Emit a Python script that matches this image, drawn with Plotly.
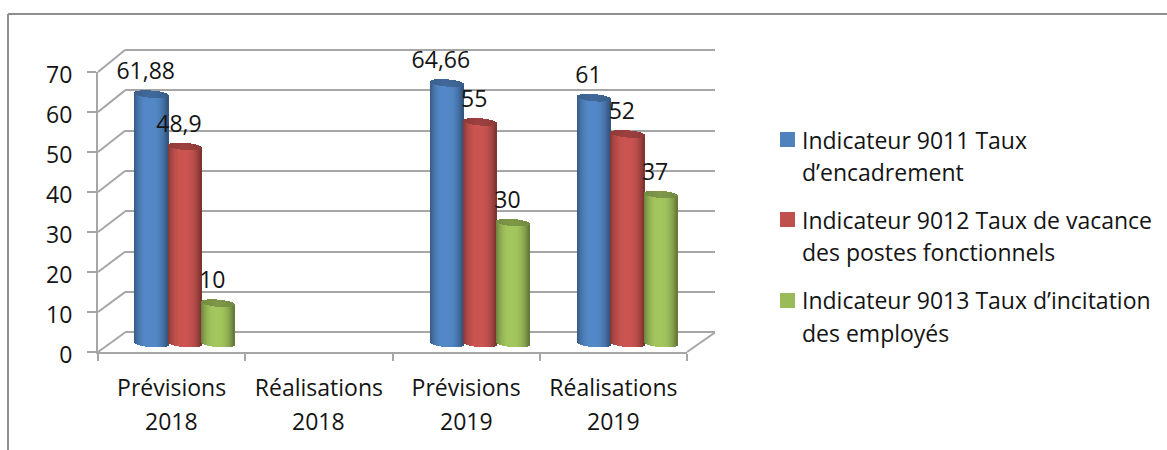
import math
import plotly.graph_objects as go

W, H = 1167, 450

# ---- data ----
categories = ["Prévisions 2018", "Réalisations 2018", "Prévisions 2019", "Réalisations 2019"]
series_names = [
    "Indicateur 9011 Taux d’encadrement",
    "Indicateur 9012 Taux de vacance des postes fonctionnels",
    "Indicateur 9013 Taux d’incitation des employés",
]
values_9011 = [61.88, None, 64.66, 61]
values_9012 = [48.9, None, 55, 52]
values_9013 = [10, None, 30, 37]
y_ticks = [0, 10, 20, 30, 40, 50, 60, 70]
legend_lines = [
    ["Indicateur 9011 Taux", "d’encadrement"],
    ["Indicateur 9012 Taux de vacance", "des postes fonctionnels"],
    ["Indicateur 9013 Taux d’incitation", "des employés"],
]

# ---- style ----
FONT = "Open Sans"
FS = 23
TXT = "#141414"
GRID = "#a6a6a6"
FRAME = "#8e8e8e"
COLORS = ["#4f81bd", "#c0504d", "#9bbb59"]


def fx(p):
    return p / W


def fy(p):
    return 1 - p / H


def shade(hex_c, f):
    r, g, b = int(hex_c[1:3], 16), int(hex_c[3:5], 16), int(hex_c[5:7], 16)
    return "rgb(%d,%d,%d)" % (min(255, r * f), min(255, g * f), min(255, b * f))


# pixel geometry of the pseudo-3D box
FL, FR, FB, FT = 98, 687, 352, 72      # front plane
BL, BR, BB, BT = 125, 715, 332.5, 50   # back wall
BAR_L, BAR_R = 111.2, 701.6            # plane in which the cylinders stand
ZERO_PX, PX_PER_UNIT = 343.5, 4.03
BAR_DOM_B, BAR_DOM_T = 360, 30
CAT_PX = (BAR_R - BAR_L) / 4
BAR_PX = 33.3
N = 33
CAP_B = 3.6 / PX_PER_UNIT
TILT = 1.4 / PX_PER_UNIT
BACK_STEP = (BB - BT) / 70

fig = go.Figure()

# back wall: gridlines only
fig.add_trace(go.Scatter(x=[0, 1], y=[0, 70], mode="none", xaxis="x", yaxis="y",
                         showlegend=False, hoverinfo="skip"))
# front plane: the visible value and category axes
fig.add_trace(go.Scatter(x=categories, y=[0, 0, 0, 0], mode="none", xaxis="x2", yaxis="y2",
                         showlegend=False, hoverinfo="skip"))

# cylinders
w_strip = BAR_PX / N / CAT_PX
w_bar = BAR_PX / CAT_PX
for s, (name, vals, col) in enumerate(zip(series_names, [values_9011, values_9012, values_9013], COLORS)):
    bx, by, bbase, boff, bcol = [], [], [], [], []
    cy, cbase, ccol = [], [], []
    for i, v in enumerate(vals):
        if v is None:
            continue
        for k in range(N):
            u = (k + 0.5) / N * 2 - 1
            arc = math.sqrt(max(0, 1 - u * u))
            tilt = -TILT * u
            lit = 0.66 + 0.40 * (1 - abs(u) ** 2.6) + 0.03 * (-u)
            bot = tilt - CAP_B * arc
            top = v + tilt
            bx.append(i)
            by.append(top - bot)
            bbase.append(bot)
            boff.append((s - 1.5) * w_bar + k * w_strip)
            bcol.append(shade(col, lit))
            cy.append(2 * CAP_B * arc)
            cbase.append(top - CAP_B * arc)
            ccol.append(shade(col, 0.74 + 0.08 * (1 - abs(u))))
    fig.add_trace(go.Bar(x=bx, y=by, base=bbase, offset=boff, width=w_strip,
                         marker=dict(color=bcol, line=dict(width=0)), name=name,
                         xaxis="x3", yaxis="y3", showlegend=False, hoverinfo="name"))
    fig.add_trace(go.Bar(x=bx, y=cy, base=cbase, offset=boff, width=w_strip,
                         marker=dict(color=ccol, line=dict(width=0)), name=name,
                         xaxis="x3", yaxis="y3", showlegend=False, hoverinfo="name"))

# data labels
for s, vals in enumerate([values_9011, values_9012, values_9013]):
    xs = [i + (s - 1) * w_bar - 6 / CAT_PX for i, v in enumerate(vals) if v is not None]
    ys = [v + 20.5 / PX_PER_UNIT for v in vals if v is not None]
    txt = [str(v).replace(".", ",") for v in vals if v is not None]
    fig.add_trace(go.Scatter(x=xs, y=ys, text=txt, mode="text", textposition="middle center",
                             textfont=dict(family=FONT, size=FS, color=TXT), cliponaxis=False,
                             xaxis="x3", yaxis="y3", showlegend=False, hoverinfo="skip"))

shapes = []


def line(x0, y0, x1, y1, color=GRID, width=2):
    shapes.append(dict(type="line", xref="paper", yref="paper", x0=fx(x0), y0=fy(y0), x1=fx(x1), y1=fy(y1),
                       line=dict(color=color, width=width), layer="below"))


# outer frame (top and left edges only)
line(8, 14, 1167, 14, FRAME, 2)
line(8, 14, 8, 450, FRAME, 2)

# side wall diagonals and floor edge
for t in y_ticks:
    line(FL, FB - (FB - FT) * t / 70, BL, BB - (BB - BT) * t / 70)
line(FR, FB, BR, BB)

# legend
annotations = []
LEG_SW = [132, 212, 293]
LEG_Y = [[140, 172], [220, 252], [300, 333]]
for sw, ly, lines, col in zip(LEG_SW, LEG_Y, legend_lines, COLORS):
    shapes.append(dict(type="rect", xref="paper", yref="paper", x0=fx(780), x1=fx(795), y0=fy(sw), y1=fy(sw + 15),
                       fillcolor=col, line=dict(width=0)))
    for y, t in zip(ly, lines):
        annotations.append(dict(text=t, xref="paper", yref="paper", x=fx(800), y=fy(y), showarrow=False,
                                xanchor="left", yanchor="middle", align="left",
                                font=dict(family=FONT, size=FS, color=TXT)))

# second line of the category labels
for c in categories:
    annotations.append(dict(text=c.split(" ")[1], xref="x2", yref="paper", x=c, y=fy(421), showarrow=False,
                            xanchor="center", yanchor="middle", font=dict(family=FONT, size=FS, color=TXT)))

fig.update_layout(
    template="none",
    width=W, height=H, margin=dict(l=0, r=0, t=0, b=0, pad=0), autosize=False,
    paper_bgcolor="white", plot_bgcolor="rgba(0,0,0,0)", showlegend=False,
    barmode="overlay", bargap=0, shapes=shapes, annotations=annotations,
    font=dict(family=FONT, size=FS, color=TXT),
    xaxis=dict(domain=[fx(BL), fx(BR)], range=[0, 1], visible=False, fixedrange=True, automargin=False),
    yaxis=dict(domain=[fy(BB + 2 * BACK_STEP), fy(BT - 2 * BACK_STEP)], range=[-2, 72], tickmode="array",
               tickvals=y_ticks, showgrid=True, gridcolor=GRID, gridwidth=2,
               zeroline=False, showline=False, showticklabels=False, ticks="", anchor="x", fixedrange=True,
               automargin=False),
    xaxis2=dict(domain=[fx(FL), fx(FR)], type="category", categoryorder="array", categoryarray=categories,
                range=[-0.5, 3.5], tickmode="array", tickvals=categories,
                ticktext=[c.split(" ")[0] for c in categories],
                tickson="boundaries", ticks="outside", ticklen=7, tickwidth=2, tickcolor=GRID,
                showline=True, linecolor=GRID, linewidth=2, showgrid=False, anchor="y2", automargin=False,
                ticklabelstandoff=14, tickfont=dict(family=FONT, size=FS, color=TXT), fixedrange=True),
    yaxis2=dict(domain=[fy(FB), fy(FT)], range=[0, 70], tickmode="array", tickvals=y_ticks,
                ticks="outside", ticklen=9, tickwidth=2, tickcolor=GRID, showline=True, linecolor=GRID,
                linewidth=2, showgrid=False, zeroline=False, anchor="x2", ticklabelstandoff=10, ticklabelshift=3,
                automargin=False, tickfont=dict(family=FONT, size=FS, color=TXT), fixedrange=True),
    xaxis3=dict(domain=[fx(BAR_L), fx(BAR_R)], range=[-0.5, 3.5], visible=False, anchor="y3", fixedrange=True,
                automargin=False),
    yaxis3=dict(domain=[fy(BAR_DOM_B), fy(BAR_DOM_T)],
                range=[(ZERO_PX - BAR_DOM_B) / PX_PER_UNIT, (ZERO_PX - BAR_DOM_T) / PX_PER_UNIT],
                visible=False, anchor="x3", fixedrange=True, automargin=False),
)

fig.write_html("out.html", config={"displayModeBar": False},
               post_script="document.body.style.margin='0';document.body.style.overflow='hidden';")
